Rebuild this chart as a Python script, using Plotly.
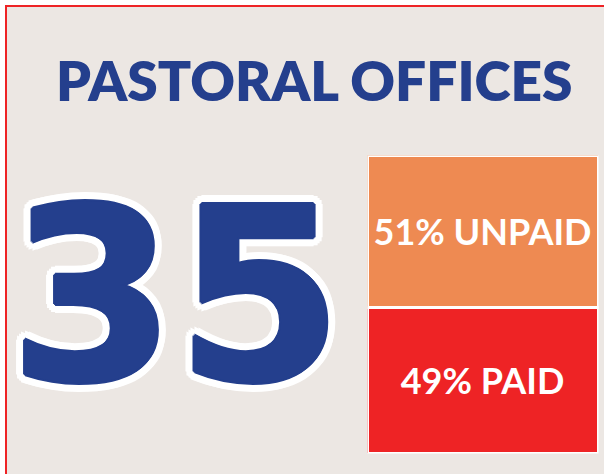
import plotly.graph_objects as go

# ---- data ----
title_text = "PASTORAL OFFICES"
total_offices = 35
categories = ["PAID", "UNPAID"]
shares = [49, 51]
bar_colors = ["#EE2325", "#EE8A52"]

W, H = 604, 474
BG = "#ECE7E3"
BLUE = "#243F8D"

def px(x):
    return x / W

def py(y):
    return 1 - y / H

fig = go.Figure()

for cat, val, col in zip(categories, shares, bar_colors):
    fig.add_trace(go.Bar(
        x=["offices"], y=[val], name=cat,
        marker=dict(color=col, line=dict(color="white", width=3)),
        text=[f"{val}% {cat}"], textposition="inside", insidetextanchor="middle",
        textfont=dict(family="Lato", size=36, color="white", weight=700),
        constraintext="none",
        xaxis="x2", yaxis="y2", hoverinfo="skip",
    ))

fig.add_annotation(
    text=title_text, xref="paper", yref="paper",
    x=px(314.5), y=py(80), xanchor="center", yanchor="middle", showarrow=False,
    font=dict(family="Lato", size=55, color=BLUE, weight=800),
)

blue_thick = [(2, 0), (-2, 0), (0, 2), (0, -2), (1, 1), (-1, 1), (1, -1), (-1, -1)]
white_ring = [(9, 0), (-9, 0), (0, 9), (0, -9), (6, 6), (-6, 6), (6, -6), (-6, -6),
              (8, 4), (-8, 4), (8, -4), (-8, -4), (4, 8), (-4, 8), (4, -8), (-4, -8)]
outline = ", ".join([f"{dx}px {dy}px 0 {BLUE}" for dx, dy in blue_thick] +
                    [f"{dx}px {dy}px 0 white" for dx, dy in white_ring])

fig.add_annotation(
    text=str(total_offices), xref="paper", yref="paper",
    x=px(176), y=py(297), xanchor="center", yanchor="middle", showarrow=False,
    font=dict(family="DejaVu Sans", size=240, color=BLUE, weight=700, shadow=outline),
)

fig.add_shape(type="rect", xref="paper", yref="paper",
              x0=px(6), y0=py(6), x1=px(W + 10), y1=py(H + 10),
              line=dict(color="#EE2325", width=2), fillcolor=BG, layer="below")

fig.update_layout(
    width=W, height=H, margin=dict(l=0, r=0, t=0, b=0),
    paper_bgcolor="white", plot_bgcolor="rgba(0,0,0,0)",
    barmode="stack", bargap=0, showlegend=False,
    xaxis=dict(visible=False), yaxis=dict(visible=False),
    xaxis2=dict(domain=[px(367.5), px(598.5)], anchor="y2", visible=False),
    yaxis2=dict(domain=[py(453.5), py(155.5)], anchor="x2", range=[0, 100], visible=False),
)

fig.write_html("out.html", config={"displayModeBar": False},
               post_script="document.body.style.margin='0';document.body.style.overflow='hidden';")
